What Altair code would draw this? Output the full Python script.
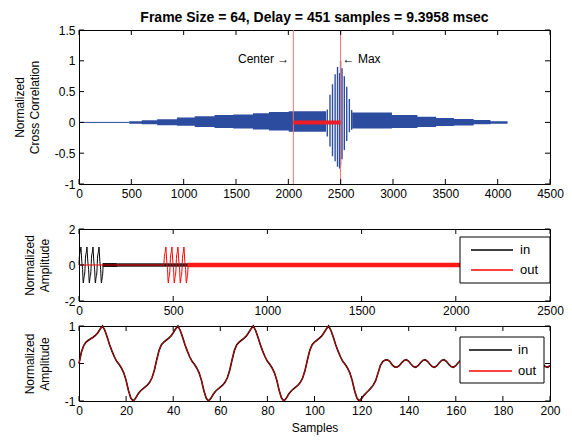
import altair as alt
import pandas as pd

FONT = "Liberation Sans"
BLUE = "#2c4ca0"
W = 471
H_TOP, H_MID, H_BOT = 154, 72, 75

title_text = "Frame Size = 64, Delay = 451 samples = 9.3958 msec"
delay = 451
center_lag = 2048
max_lag = 2499
frame_end = 2048

# ---------------- top panel: cross correlation ----------------
base_x = [0, 480]
base_y = [0, 0]

env_left_x = [480, 600, 747, 936, 1106, 1295, 1474, 1663, 1815, 2004, 2360]
env_left_top = [0.02, 0.035, 0.05, 0.08, 0.10, 0.12, 0.13, 0.15, 0.17, 0.18, 0.18]
env_left_bot = [-0.02, -0.03, -0.045, -0.055, -0.075, -0.09, -0.10, -0.115, -0.13, -0.15, -0.15]

env_right_x = [2610, 2990, 3233, 3412, 3582, 3771, 3931, 4095]
env_right_top = [0.16, 0.12, 0.09, 0.07, 0.055, 0.04, 0.02, 0.02]
env_right_bot = [-0.10, -0.09, -0.075, -0.06, -0.05, -0.03, -0.02, -0.02]

burst_x = [2372, 2398, 2422, 2447, 2470, 2490, 2499, 2513, 2535, 2558, 2583, 2605]
burst_top = [0.21, 0.45, 0.62, 0.78, 0.90, 0.80, 1.00, 0.88, 0.75, 0.58, 0.38, 0.20]
burst_bot = [-0.23, -0.39, -0.55, -0.63, -0.72, -0.75, -0.70, -0.60, -0.45, -0.30, -0.16, -0.12]

top_xticks = [0, 500, 1000, 1500, 2000, 2500, 3000, 3500, 4000, 4500]
top_yticks = [-1, -0.5, 0, 0.5, 1, 1.5]

# ---------------- input signal (first 201 samples) ----------------
in_values = [
    0.00, 0.30, 0.48, 0.57, 0.62, 0.66, 0.70, 0.75, 0.82, 0.92,
    1.00, 0.88, 0.70, 0.50, 0.33, 0.18, 0.06, -0.02, -0.12, -0.25,
    -0.45, -0.72, -0.92, -1.00, -0.93, -0.82, -0.74, -0.68, -0.63, -0.58,
    -0.50, -0.38, -0.18, 0.10, 0.35, 0.50, 0.57, 0.62, 0.67, 0.73,
    0.82, 0.92, 1.00, 0.88, 0.70, 0.50, 0.33, 0.18, 0.06, -0.02,
    -0.12, -0.25, -0.45, -0.72, -0.92, -1.00, -0.93, -0.82, -0.74, -0.68,
    -0.63, -0.58, -0.50, -0.38, -0.18, 0.10, 0.35, 0.50, 0.57, 0.62,
    0.67, 0.73, 0.82, 0.92, 1.00, 0.88, 0.70, 0.50, 0.33, 0.18,
    0.06, -0.02, -0.12, -0.25, -0.45, -0.72, -0.92, -1.00, -0.93, -0.82,
    -0.74, -0.68, -0.63, -0.58, -0.50, -0.38, -0.18, 0.10, 0.35, 0.50,
    0.57, 0.62, 0.67, 0.73, 0.82, 0.92, 1.00, 0.88, 0.70, 0.50,
    0.33, 0.18, 0.06, -0.02, -0.12, -0.25, -0.45, -0.72, -0.92, -1.00,
    -0.93, -0.85, -0.78, -0.72, -0.65, -0.57, -0.45, -0.25, -0.05, 0.05,
    0.09, 0.10, 0.05, -0.04, -0.09, -0.10, -0.06, 0.02, 0.08, 0.10,
    0.06, -0.02, -0.08, -0.10, -0.06, 0.02, 0.08, 0.10, 0.06, -0.02,
    -0.08, -0.10, -0.06, 0.02, 0.08, 0.10, 0.06, -0.02, -0.08, -0.10,
    -0.06, 0.02, 0.08, 0.10, 0.06, -0.02, -0.08, -0.10, -0.06, 0.02,
    0.08, 0.10, 0.06, -0.02, -0.08, -0.10, -0.06, 0.02, 0.08, 0.10,
    0.06, -0.02, -0.08, -0.10, -0.06, 0.02, 0.08, 0.10, 0.06, -0.02,
    -0.08, -0.10, -0.06, 0.02, 0.08, 0.10, 0.06, -0.02, -0.08, -0.10,
    -0.06,
]
in_samples = list(range(len(in_values)))

# tails of the long frame (dense small ripple) as bands
tail_in_x = [125, frame_end]
tail_in_top = [0.10, 0.10]
tail_in_bot = [-0.10, -0.10]
tail_out_x = [576, frame_end]
tail_out_top = [0.13, 0.13]
tail_out_bot = [-0.13, -0.13]

mid_xticks = [0, 500, 1000, 1500, 2000, 2500]
mid_yticks = [-2, 0, 2]
bot_xticks = [0, 20, 40, 60, 80, 100, 120, 140, 160, 180, 200]
bot_yticks = [-1, 0, 1]

series_names = ["in", "out"]
series_colors = ["black", "red"]

LBL = "'' + datum.value"


def make_enc(xdom, ydom, xticks, yticks, ytitle, xtitle=None):
    xs = alt.Scale(domain=xdom, nice=False, zero=False)
    ys = alt.Scale(domain=ydom, nice=False, zero=False)
    xa = alt.Axis(values=xticks, title=xtitle, labelExpr=LBL, titlePadding=6)
    ya = alt.Axis(values=yticks, title=ytitle, labelExpr=LBL, titlePadding=13)

    def X(f):
        return alt.X(f"{f}:Q", scale=xs, axis=xa)

    def Y(f):
        return alt.Y(f"{f}:Q", scale=ys, axis=ya)

    return X, Y


def tick_layers(X, Y, xticks, yticks, h):
    dx = pd.DataFrame({"t": xticks})
    dy = pd.DataFrame({"t": yticks})
    r = dict(color="black", strokeWidth=1)
    return [
        alt.Chart(dx).mark_rule(**r).encode(x=X("t"), y=alt.value(0), y2=alt.value(5)),
        alt.Chart(dx).mark_rule(**r).encode(x=X("t"), y=alt.value(h), y2=alt.value(h - 5)),
        alt.Chart(dy).mark_rule(**r).encode(y=Y("t"), x=alt.value(0), x2=alt.value(5)),
        alt.Chart(dy).mark_rule(**r).encode(y=Y("t"), x=alt.value(W), x2=alt.value(W - 5)),
    ]


def legend_layers(box, line_x, text_x, rows_y):
    """Boxed legend drawn with marks (positions in pixels inside the plot)."""
    one = pd.DataFrame({"k": [0]})
    layers = [
        alt.Chart(one).mark_rect(fill="white", stroke="black", strokeWidth=1).encode(
            x=alt.value(box[0]), x2=alt.value(box[1]), y=alt.value(box[2]), y2=alt.value(box[3])
        )
    ]
    for name, col, ry in zip(series_names, series_colors, rows_y):
        d = pd.DataFrame({"s": [name]})
        layers.append(
            alt.Chart(d).mark_rule(color=col, strokeWidth=1.3).encode(
                x=alt.value(line_x[0]), x2=alt.value(line_x[1]), y=alt.value(ry)
            )
        )
        layers.append(
            alt.Chart(d).mark_text(align="left", baseline="middle", font=FONT, fontSize=13, color="black").encode(
                x=alt.value(text_x), y=alt.value(ry), text="s:N"
            )
        )
    return layers


# ---- top chart
X, Y = make_enc([0, 4500], [-1, 1.5], top_xticks, top_yticks, ["Normalized", "Cross Correlation"])
df_base = pd.DataFrame({"x": base_x, "y": base_y})
df_envL = pd.DataFrame({"x": env_left_x, "top": env_left_top, "bot": env_left_bot})
df_envR = pd.DataFrame({"x": env_right_x, "top": env_right_top, "bot": env_right_bot})
df_burst = pd.DataFrame({"x": burst_x, "top": burst_top, "bot": burst_bot})
df_vl = pd.DataFrame({"x": [center_lag, max_lag]})
df_hl = pd.DataFrame({"x": [center_lag], "x2": [max_lag], "y": [0]})
df_txt = pd.DataFrame({"x": [center_lag, max_lag], "y": [1.03, 1.03], "t": ["Center \u2192", "\u2190 Max"]})

top_layers = [
    alt.Chart(df_base).mark_line(color=BLUE, strokeWidth=1).encode(x=X("x"), y=Y("y")),
    alt.Chart(df_envL).mark_area(interpolate="step-after", color=BLUE).encode(x=X("x"), y=Y("top"), y2=alt.Y2("bot")),
    alt.Chart(df_envR).mark_area(interpolate="step-after", color=BLUE).encode(x=X("x"), y=Y("top"), y2=alt.Y2("bot")),
    alt.Chart(df_burst).mark_rule(color=BLUE, strokeWidth=1.4).encode(x=X("x"), y=Y("top"), y2=alt.Y2("bot")),
    alt.Chart(df_vl).mark_rule(color="#f47474", strokeWidth=1).encode(x=X("x")),
    alt.Chart(df_hl).mark_rule(color="#ee1c25", strokeWidth=4).encode(x=X("x"), x2=alt.X2("x2"), y=Y("y")),
    alt.Chart(df_txt.iloc[[0]]).mark_text(align="right", baseline="middle", dx=-4, font=FONT, fontSize=12, color="black").encode(x=X("x"), y=Y("y"), text="t:N"),
    alt.Chart(df_txt.iloc[[1]]).mark_text(align="left", baseline="middle", dx=2, font=FONT, fontSize=12, color="black").encode(x=X("x"), y=Y("y"), text="t:N"),
] + tick_layers(X, Y, top_xticks, top_yticks, H_TOP)

top = alt.layer(*top_layers).properties(
    width=W, height=H_TOP,
    title=alt.Title(title_text, font=FONT, fontSize=14, fontWeight="bold", color="black",
                    frame="group", anchor="middle", offset=-1),
)

# ---- middle chart
X, Y = make_enc([0, 2500], [-2, 2], mid_xticks, mid_yticks, ["Normalized", "Amplitude"])
cscale = alt.Scale(domain=series_names, range=series_colors)
df_in = pd.DataFrame({"x": in_samples, "y": in_values, "s": "in"})
df_out_mid = pd.DataFrame({"x": [0] + [delay + s for s in in_samples], "y": [0] + in_values, "s": "out"})
df_tin = pd.DataFrame({"x": tail_in_x, "top": tail_in_top, "bot": tail_in_bot})
df_tout = pd.DataFrame({"x": tail_out_x, "top": tail_out_top, "bot": tail_out_bot})

mid_layers = [
    alt.Chart(df_tin).mark_area(color="#222222").encode(x=X("x"), y=Y("top"), y2=alt.Y2("bot")),
    alt.Chart(df_in).mark_line(strokeWidth=1).encode(x=X("x"), y=Y("y"), color=alt.Color("s:N", scale=cscale, legend=None)),
    alt.Chart(df_out_mid).mark_line(strokeWidth=1).encode(x=X("x"), y=Y("y"), color=alt.Color("s:N", scale=cscale, legend=None)),
    alt.Chart(df_tout).mark_area(color="#ff1a1a").encode(x=X("x"), y=Y("top"), y2=alt.Y2("bot")),
] + tick_layers(X, Y, mid_xticks, mid_yticks, H_MID) + legend_layers(
    (W - 90, W, 8, 54), (W - 79, W - 37), W - 30, (21, 41)
)
mid = alt.layer(*mid_layers).properties(width=W, height=H_MID)

# ---- bottom chart
X, Y = make_enc([0, 200], [-1, 1], bot_xticks, bot_yticks, ["Normalized", "Amplitude"], xtitle="Samples")
df_out_bot = pd.DataFrame({"x": in_samples, "y": in_values, "s": "out"})
bot_layers = [
    alt.Chart(df_in).mark_line(strokeWidth=1.6).encode(x=X("x"), y=Y("y"), color=alt.Color("s:N", scale=cscale, legend=None)),
    alt.Chart(df_out_bot).mark_line(strokeWidth=1, opacity=0.8).encode(x=X("x"), y=Y("y"), color=alt.Color("s:N", scale=cscale, legend=None)),
] + tick_layers(X, Y, bot_xticks, bot_yticks, H_BOT) + legend_layers(
    (W - 90, W - 6, 11, 57), (W - 81, W - 38), W - 32, (24, 45)
)
bot = alt.layer(*bot_layers).properties(width=W, height=H_BOT)

inner = alt.vconcat(mid, bot, spacing=25, bounds="flush").resolve_scale(color="independent")

chart = (
    alt.vconcat(top, inner, spacing=45, bounds="flush")
    .resolve_scale(color="independent")
    .properties(
        autosize=alt.AutoSizeParams(type="none"),
        padding={"left": 71, "top": 22, "right": 14, "bottom": 406},
    )
    .configure_view(stroke="black", strokeWidth=1)
    .configure_axis(
        domain=False, ticks=False, grid=False,
        labelFont=FONT, labelFontSize=12, labelColor="black", labelPadding=4,
        labelFlush=False, labelOverlap=False,
        titleFont=FONT, titleFontSize=12, titleFontWeight="normal", titleColor="black",
        titleLineHeight=15,
    )
)

chart.save("out.html", embed_options={"renderer": "svg", "actions": False})
